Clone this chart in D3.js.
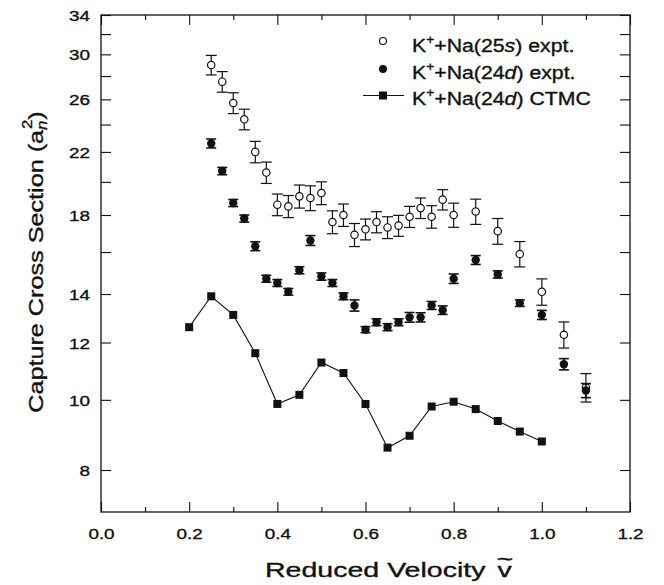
<!DOCTYPE html>
<html>
<head>
<meta charset="utf-8">
<script src="https://cdn.jsdelivr.net/npm/d3@7"></script>
<style>
  body { margin: 0; background: #fff; }
  text { font-family: "Liberation Sans", Arial, Helvetica, sans-serif; fill: #111; stroke: #111; stroke-width: 0.35px; }
</style>
</head>
<body>
<svg></svg>
<script>
// capture cross section vs reduced velocity (log y)
var velExpt = [0.25, 0.275, 0.3, 0.325, 0.35, 0.375, 0.4, 0.425, 0.45, 0.475, 0.5, 0.525, 0.55, 0.575,
  0.6, 0.625, 0.65, 0.675, 0.7, 0.725, 0.75, 0.775, 0.8, 0.85, 0.9, 0.95, 1.0, 1.05, 1.1];
var sigma25s = [29.0, 27.5, 25.7, 24.4, 22.0, 20.6, 18.6, 18.5, 19.1, 19.0, 19.3, 17.6, 18.0, 16.9,
  17.2, 17.6, 17.3, 17.4, 17.9, 18.4, 17.9, 18.9, 18.0, 18.2, 17.1, 15.9, 14.1, 12.3, 10.4];
var err25s = [0.9, 0.9, 0.85, 0.8, 0.75, 0.7, 0.64, 0.65, 0.7, 0.75, 0.7, 0.64, 0.64, 0.62,
  0.57, 0.59, 0.6, 0.58, 0.6, 0.6, 0.64, 0.61, 0.69, 0.73, 0.7, 0.64, 0.59, 0.51, 0.47];
var sigma24d = [22.6, 20.7, 18.7, 17.8, 16.3, 14.7, 14.5, 14.1, 15.1, 16.6, 14.8, 14.5, 13.9, 13.5,
  12.5, 12.8, 12.6, 12.8, 13.0, 13.0, 13.5, 13.3, 14.7, 15.6, 14.9, 13.6, 13.1, 11.2, 10.3];
var err24d = [0.32, 0.24, 0.21, 0.2, 0.23, 0.16, 0.16, 0.15, 0.17, 0.26, 0.17, 0.16, 0.15, 0.24,
  0.12, 0.14, 0.14, 0.14, 0.2, 0.19, 0.17, 0.18, 0.22, 0.22, 0.17, 0.14, 0.19, 0.2, 0.23];
var velCtmc = [0.2, 0.25, 0.3, 0.35, 0.4, 0.45, 0.5, 0.55, 0.6, 0.65, 0.7, 0.75, 0.8, 0.85, 0.9, 0.95, 1.0];
var sigmaCtmc = [12.6, 13.9, 13.1, 11.6, 9.87, 10.16, 11.26, 10.89, 9.87, 8.59, 8.92, 9.79, 9.94, 9.71, 9.35, 9.04, 8.76];

var xMajor = [0, 0.2, 0.4, 0.6, 0.8, 1.0, 1.2];
var xMinor = [0.1, 0.3, 0.5, 0.7, 0.9, 1.1];
var yMajor = [8, 10, 12, 14, 18, 22, 26, 30, 34];
var yMinor = [16, 20, 24, 28, 32];

// legend rows: [before sup, sup, middle, italic, after]
var legendRows = [
  ["K", "+", "+Na(25", "s", ") expt."],
  ["K", "+", "+Na(24", "d", ") expt."],
  ["K", "+", "+Na(24", "d", ") CTMC"]
];

var svgWidth = 664;
var svgHeight = 585;
var plotL = 101, plotR = 630, plotT = 15, plotB = 512;
var ink = "#111";

var svg = d3.select("svg").attr("width", svgWidth).attr("height", svgHeight);

var x = d3.scaleLinear().domain([0, 1.2]).range([plotL, plotR]);
var y = d3.scaleLog().domain([7, 34]).range([plotB, plotT]);

// axes, ticks pointing inward on all four sides
function axisGroup(axis, tx, ty) {
  var g = svg.append("g").attr("transform", "translate(" + tx + "," + ty + ")").call(axis);
  g.select(".domain").remove();
  g.selectAll("line").attr("stroke", ink).attr("stroke-width", 1.1);
  g.attr("font-family", null).attr("font-size", null);
  return g;
}

var xb = axisGroup(d3.axisBottom(x).tickValues(xMajor).tickSize(-10).tickFormat(d3.format(".1f")), 0, plotB);
xb.selectAll("text")
  .attr("y", null).attr("dy", null)
  .style("font-size", "15.5px")
  .attr("transform", "translate(0,27) scale(1.22,1)");
axisGroup(d3.axisBottom(x).tickValues(xMinor).tickSize(-5).tickFormat(""), 0, plotB);
axisGroup(d3.axisTop(x).tickValues(xMajor).tickSize(-10).tickFormat(""), 0, plotT);
axisGroup(d3.axisTop(x).tickValues(xMinor).tickSize(-5).tickFormat(""), 0, plotT);

var yl = axisGroup(d3.axisLeft(y).tickValues(yMajor).tickSize(-10).tickFormat(d3.format("d")), plotL, 0);
yl.selectAll("text")
  .attr("x", null).attr("dy", "0.36em")
  .style("font-size", "15.5px")
  .attr("transform", "translate(-11,0) scale(1.22,1)");
axisGroup(d3.axisLeft(y).tickValues(yMinor).tickSize(-10).tickFormat(""), plotL, 0);
axisGroup(d3.axisRight(y).tickValues(yMajor).tickSize(-10).tickFormat(""), plotR, 0);
axisGroup(d3.axisRight(y).tickValues(yMinor).tickSize(-10).tickFormat(""), plotR, 0);

svg.append("rect")
  .attr("x", plotL).attr("y", plotT)
  .attr("width", plotR - plotL).attr("height", plotB - plotT)
  .attr("fill", "none").attr("stroke", ink).attr("stroke-width", 1.3);

// CTMC line + squares
var ctmc = velCtmc.map(function (v, i) { return [v, sigmaCtmc[i]]; });
svg.append("path")
  .datum(ctmc)
  .attr("fill", "none").attr("stroke", ink).attr("stroke-width", 1.1)
  .attr("d", d3.line().x(function (d) { return x(d[0]); }).y(function (d) { return y(d[1]); }));
svg.selectAll(".sq")
  .data(ctmc)
  .enter()
  .append("rect")
  .attr("class", "sq")
  .attr("x", function (d) { return x(d[0]) - 4; })
  .attr("y", function (d) { return y(d[1]) - 4; })
  .attr("width", 8).attr("height", 8)
  .attr("fill", ink);

function errorBars(vals, errs, capHalf, sw) {
  var pts = velExpt.map(function (v, i) { return [v, vals[i], errs[i]]; });
  var g = svg.append("g").attr("stroke", ink).attr("stroke-width", sw);
  g.selectAll(".v").data(pts).enter().append("line")
    .attr("x1", function (d) { return x(d[0]); })
    .attr("x2", function (d) { return x(d[0]); })
    .attr("y1", function (d) { return y(d[1] - d[2]); })
    .attr("y2", function (d) { return y(d[1] + d[2]); });
  [-1, 1].forEach(function (s) {
    g.selectAll(".c" + s).data(pts).enter().append("line")
      .attr("x1", function (d) { return x(d[0]) - capHalf; })
      .attr("x2", function (d) { return x(d[0]) + capHalf; })
      .attr("y1", function (d) { return y(d[1] + s * d[2]); })
      .attr("y2", function (d) { return y(d[1] + s * d[2]); });
  });
  return pts;
}

// 25s, open circles
var open = errorBars(sigma25s, err25s, 5.5, 1.2);
svg.selectAll(".open")
  .data(open)
  .enter()
  .append("circle")
  .attr("class", "open")
  .attr("cx", function (d) { return x(d[0]); })
  .attr("cy", function (d) { return y(d[1]); })
  .attr("r", 3.7)
  .attr("fill", "#fff").attr("stroke", ink).attr("stroke-width", 1.2);

// 24d, filled circles
var filled = errorBars(sigma24d, err24d, 5, 1.6);
svg.selectAll(".filled")
  .data(filled)
  .enter()
  .append("circle")
  .attr("class", "filled")
  .attr("cx", function (d) { return x(d[0]); })
  .attr("cy", function (d) { return y(d[1]); })
  .attr("r", 4.2)
  .attr("fill", ink);

// legend
var legendBase = [52, 79, 105];
var leg = svg.append("g");
leg.append("circle").attr("cx", 383).attr("cy", 41).attr("r", 3.5)
  .attr("fill", "#fff").attr("stroke", ink).attr("stroke-width", 1.1);
leg.append("circle").attr("cx", 383).attr("cy", 69).attr("r", 4).attr("fill", ink);
leg.append("line").attr("x1", 363).attr("x2", 404).attr("y1", 95.5).attr("y2", 95.5)
  .attr("stroke", ink).attr("stroke-width", 1.1);
leg.append("rect").attr("x", 379).attr("y", 91.5).attr("width", 8).attr("height", 8).attr("fill", ink);

legendRows.forEach(function (row, i) {
  var t = leg.append("text")
    .style("font-size", "18.5px")
    .attr("transform", "translate(412," + legendBase[i] + ") scale(1.15,1)");
  t.append("tspan").text(row[0]);
  t.append("tspan").style("font-size", "12px").attr("dy", -8).text(row[1]);
  t.append("tspan").attr("dy", 8).text(row[2]);
  t.append("tspan").attr("font-style", "italic").text(row[3]);
  t.append("tspan").text(row[4]);
});

// axis titles
var xt = svg.append("text")
  .style("font-size", "21px")
  .attr("transform", "translate(265,577) scale(1.36,1)");
xt.append("tspan").text("Reduced Velocity ");
xt.append("tspan").attr("dx", 3).text("v");
xt.append("tspan").attr("dx", -11.2).attr("dy", -11).text("~");

var yt = svg.append("text")
  .style("font-size", "21px")
  .attr("text-anchor", "middle")
  .attr("transform", "translate(43,262) rotate(-90) scale(1.2,1)");
yt.append("tspan").text("Capture Cross Section (a");
yt.append("tspan").style("font-size", "14px").attr("font-style", "italic").attr("dy", 4).text("n");
yt.append("tspan").style("font-size", "14px").attr("dx", -7).attr("dy", -15).text("2");
yt.append("tspan").attr("dy", 11).text(")");
</script>
</body>
</html>
